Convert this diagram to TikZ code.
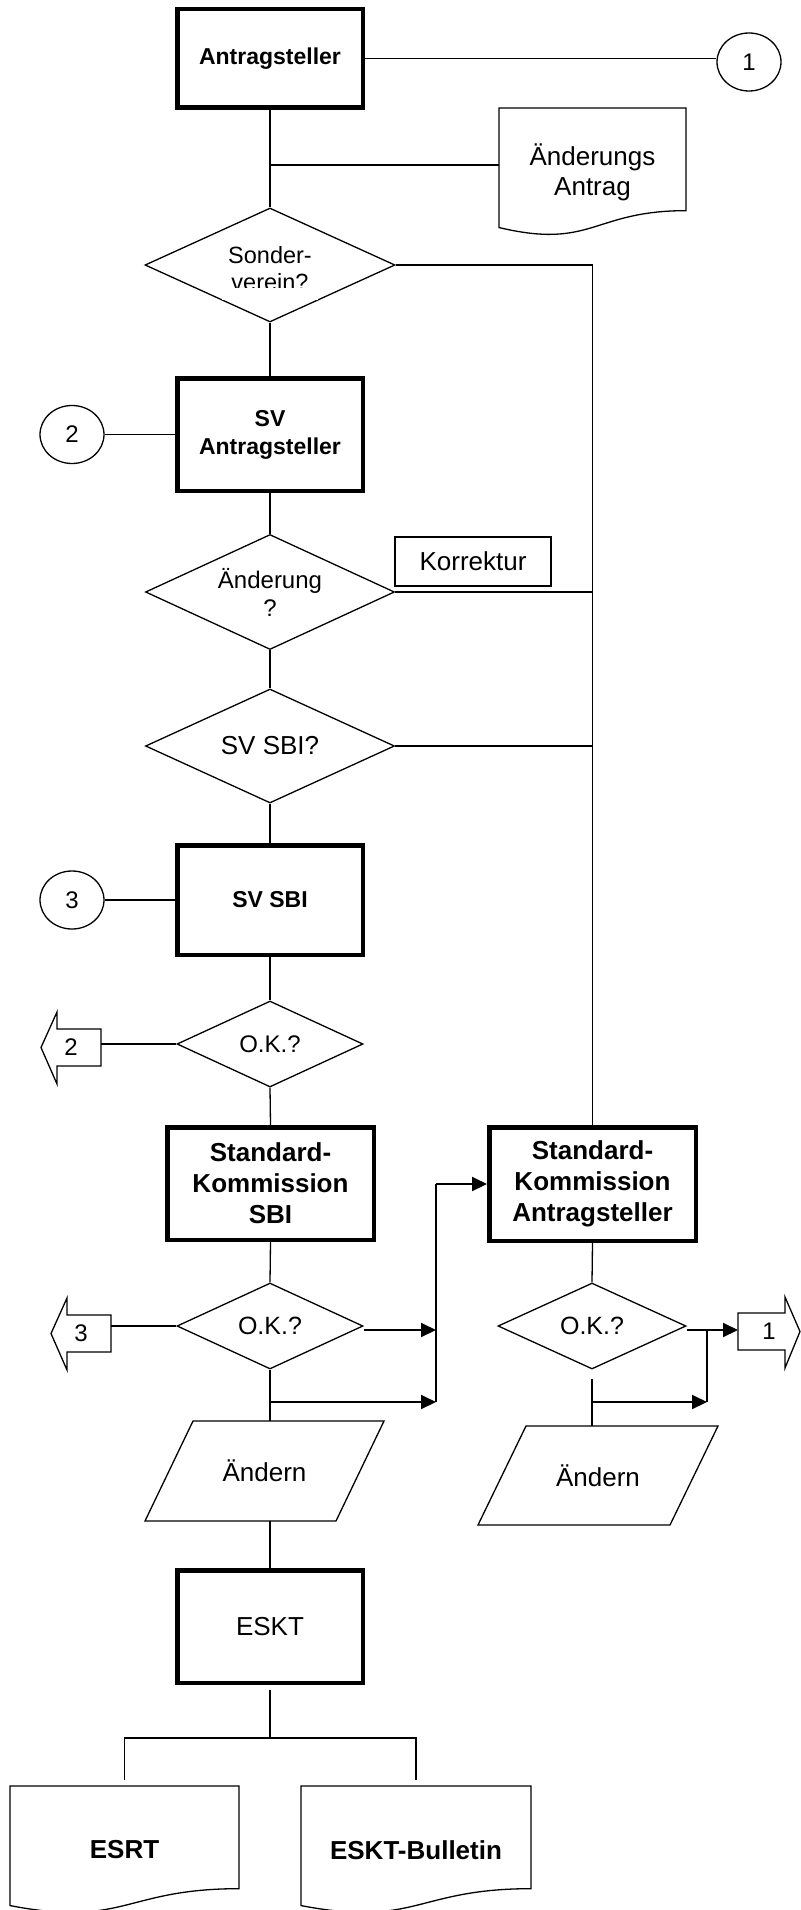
\documentclass[tikz,border=0pt]{standalone}
\usepackage{fontspec}
\setmainfont{Liberation Sans}
\usetikzlibrary{shapes.geometric,arrows.meta,calc}
\newcommand\fsm{\fontsize{23}{28}\selectfont}
\newcommand\fbig{\fontsize{26}{31}\selectfont}
\newcommand\fmid{\fontsize{24}{28}\selectfont}
\newcommand\docshape[1]{%
  \draw[conn] let \p1=(#1.north west), \p2=(#1.south east) in
  (\x1,\y1) -- (\x2,\y1) -- (\x2,{\y1-0.802*(\y1-\y2)})
  .. controls ({0.5*(\x1+\x2)},{\y1-0.802*(\y1-\y2)}) and ({0.5*(\x1+\x2)},{\y1-1.1075*(\y1-\y2)}) ..
  (\x1,{\y1-0.934*(\y1-\y2)}) -- cycle;}
\newcommand\paral[2]{%
  \draw[conn] let \p1=(#1.south west), \p2=(#1.north east) in
  (\x1+#2,\y2) -- (\x2,\y2) -- (\x2-#2,\y1) -- (\x1,\y1) -- cycle;}
\newcommand\offleft[1]{%
  \draw[conn] let \p1=(#1.south west), \p2=(#1.north east) in
  (\x1,{0.5*(\y1+\y2)}) -- (\x1+16pt,\y2+17pt) -- (\x1+16pt,\y2) -- (\x2,\y2) -- (\x2,\y1)
  -- (\x1+16pt,\y1) -- (\x1+16pt,\y1-18pt) -- cycle;}
\newcommand\offright[1]{%
  \draw[conn] let \p1=(#1.south west), \p2=(#1.north east) in
  (\x2,{0.5*(\y1+\y2)}) -- (\x2-15pt,\y2+16pt) -- (\x2-15pt,\y2) -- (\x1,\y2) -- (\x1,\y1)
  -- (\x2-15pt,\y1) -- (\x2-15pt,\y1-18pt) -- cycle;}
\tikzset{
  conn/.style={line width=1.3pt},
  arr/.style={line width=2pt,-{Triangle[length=15pt,width=14pt]}},
  proc/.style={draw,line width=4.5pt,inner sep=0pt,align=center,font=\bfseries\fsm},
  dec/.style={draw,diamond,line width=1.3pt,inner sep=0pt,aspect=2.2,align=center,font=\fsm},
  conct/.style={draw,ellipse,line width=1.3pt,minimum width=64pt,minimum height=58pt,inner sep=0pt,font=\fmid},
  helper/.style={inner sep=0pt,outer sep=0pt,align=center},
}
\begin{document}
\begin{tikzpicture}[x=1pt,y=-1pt]
\useasboundingbox[fill=white] (0,0) rectangle (800,1910);
% top
\node[proc,minimum width=185.5pt,minimum height=98.5pt] (A) at (270,58.5) {Antragsteller};
\node[conct] (C1) at (749,62) {1};
\node[helper,minimum width=187pt,minimum height=128pt,font=\fontsize{26}{30}\selectfont] (DOC1) at (592.5,172) {Änderungs\\Antrag};
\docshape{DOC1}
\node[dec,minimum width=250pt,minimum height=114pt,font=\fontsize{23.5}{26}\selectfont] (D1) at (270,265)
  {\raisebox{-6.8pt}[\height][\depth]{\begin{tabular}{@{}c@{}}Sonder-\\verein?\end{tabular}}};
\fill[white] (222,287.5) rectangle (318,300);
\node[proc,minimum width=185.5pt,minimum height=112.5pt] (SVA) at (270,434.5) {SV\\Antragsteller};
\node[conct] (C2) at (72,434.5) {2};
\node[dec,minimum width=249pt,minimum height=115pt,font=\fmid] (D2) at (270,592) {Änderung\\?};
\node[draw,line width=1.5pt,minimum width=156pt,minimum height=49pt,inner sep=0pt,font=\fbig] (K) at (473,561.5) {Korrektur};
\node[dec,minimum width=249pt,minimum height=114pt,font=\fbig] (D3) at (270,746) {SV SBI?};
\node[proc,minimum width=185.5pt,minimum height=109.5pt] (SVS) at (270,900) {SV SBI};
\node[conct] (C3) at (72,900) {3};
\node[dec,minimum width=186pt,minimum height=86pt,font=\fmid] (D4) at (270,1044) {O.K.?};
\node[helper,minimum width=60pt,minimum height=37pt,font=\fmid] (A2) at (71,1047.5) {2};
\offleft{A2}
\node[proc,minimum width=206.5pt,minimum height=112.5pt,font=\bfseries\fbig] (SKS) at (270.5,1183.5) {Standard-\\Kommission\\SBI};
\node[proc,minimum width=206.5pt,minimum height=113.5pt,font=\bfseries\fbig] (SKA) at (592.5,1184) {Standard-\\Kommission\\Antragsteller};
\node[dec,minimum width=186pt,minimum height=86pt,font=\fontsize{25}{28}\selectfont] (D5) at (270,1326) {O.K.?};
\node[dec,minimum width=188pt,minimum height=86pt,font=\fontsize{25}{28}\selectfont] (D6) at (592,1326) {O.K.?};
\node[helper,minimum width=60pt,minimum height=37pt,font=\fmid] (A3) at (81,1333.5) {3};
\offleft{A3}
\node[helper,minimum width=62pt,minimum height=37pt,font=\fmid] (A1) at (769,1331.5) {1};
\offright{A1}
\node[helper,minimum width=239pt,minimum height=100pt,font=\fbig] (P1) at (264.5,1471) {Ändern};
\paral{P1}{48pt}
\node[helper,minimum width=240pt,minimum height=99pt,font=\fbig] (P2) at (598,1475.5) {Ändern};
\paral{P2}{48pt}
\node[proc,minimum width=185.5pt,minimum height=112.5pt,font=\fbig] (ESKT) at (270,1626.5) {ESKT};
\node[helper,minimum width=229pt,minimum height=128pt,font=\bfseries\fbig] (ESRT) at (124.5,1850) {ESRT};
\docshape{ESRT}
\node[helper,minimum width=230pt,minimum height=128pt,font=\bfseries\fbig] (BUL) at (416,1850) {ESKT-Bulletin};
\docshape{BUL}
% helper coordinates
\coordinate (b0) at (270,165);
\coordinate (jL) at (436,1402);
\coordinate (bL) at (270,1402);
\coordinate (jR) at (707,1402);
\coordinate (bR) at (592,1402);
\coordinate (eB) at (270,1738);
% connectors
\draw[conn] (A.east) -- (A.east -| C1.west);
\draw[conn] (A.south) -- (D1.north);
\draw[conn] (b0) -- (b0 -| DOC1.west);
\draw[conn] (D1.east) -| (SKA.north);
\draw[conn] (D1.south) -- (SVA.north);
\draw[conn] (C2.east) -- (SVA.west);
\draw[conn] (SVA.south) -- (D2.north);
\draw[conn] (D2.east) -- (D2.east -| SKA.north);
\draw[conn] (D2.south) -- (D3.north);
\draw[conn] (D3.east) -- (D3.east -| SKA.north);
\draw[conn] (D3.south) -- (SVS.north);
\draw[conn] (C3.east) -- (SVS.west);
\draw[conn] (SVS.south) -- (D4.north);
\draw[conn] (D4.west) -- (D4.west -| A2.east);
\draw[conn] (D4.south) -- (SKS.north);
\draw[conn] (SKS.south) -- (D5.north);
\draw[conn] (D5.west) -- (D5.west -| A3.east);
\draw[arr] ([yshift=-4pt]D5.east) -- ([yshift=-4pt]D5.east -| jL);
\draw[conn] (D5.south) -- (D5.south |- P1.north);
\draw[arr] (bL) -- (jL);
\draw[conn] (jL) -- (jL |- SKA.west);
\draw[arr] (jL |- SKA.west) -- (SKA.west);
\draw[conn] (SKA.south) -- (D6.north);
\draw[arr] ([yshift=-4pt]D6.east) -- ([yshift=-4pt]D6.east -| A1.west);
\draw[conn] ([yshift=-4pt]D6.east -| jR) -- (jR);
\draw[conn,shorten <=9pt] (D6.south) -- (D6.south |- P2.north);
\draw[arr] (bR) -- (jR);
\draw[conn] (ESKT.north |- P1.south) -- (ESKT.north);
\draw[conn,shorten <=5pt] (ESKT.south) -- (eB);
\draw[conn,shorten >=6pt] (eB) -| (ESRT.north);
\draw[conn,shorten >=6pt] (eB) -| (BUL.north);
\end{tikzpicture}
\end{document}
